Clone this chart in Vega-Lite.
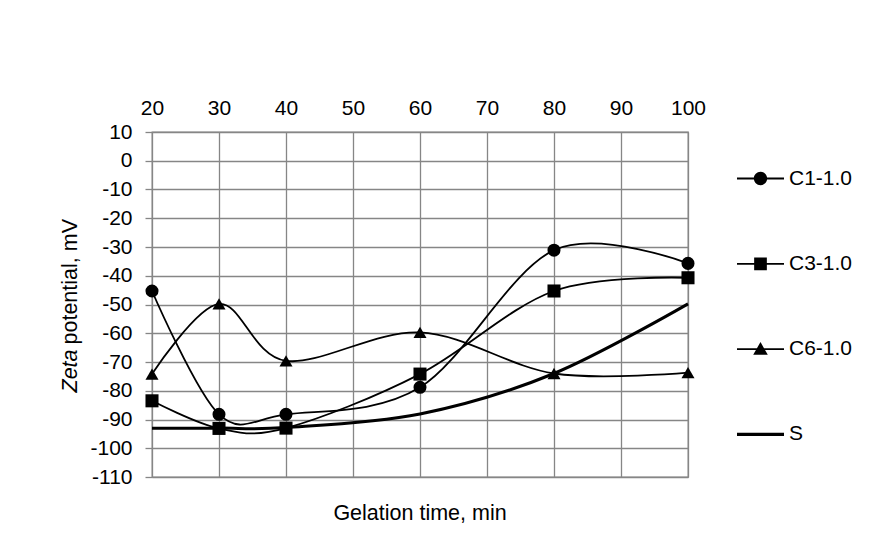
{
  "$schema": "https://vega.github.io/schema/vega-lite/v6.json",
  "width": 536,
  "height": 345,
  "autosize": {"type": "none"},
  "padding": {"left": 152, "top": 132, "right": 189, "bottom": 57},
  "background": "white",
  "title": {"text": "Gelation time, min", "orient": "bottom", "anchor": "middle", "frame": "group", "offset": 16, "font": "Liberation Sans", "fontSize": 21.5, "fontWeight": "normal", "color": "black"},
  "config": {
    "font": "Liberation Sans",
    "view": {"stroke": "#868686", "strokeWidth": 1.3},
    "axis": {"labelFont": "Liberation Sans", "labelFontSize": 21, "labelColor": "black", "titleFont": "Liberation Sans", "titleFontSize": 21.5, "titleFontWeight": "normal", "titleColor": "black", "gridColor": "#868686", "gridWidth": 1.3, "gridOpacity": 1, "domainColor": "#868686", "tickColor": "#868686", "tickWidth": 1.3}
  },
  "data": {"values": [
    {"series": "C1-1.0", "t": 20, "v": -45.3},
    {"series": "C1-1.0", "t": 30, "v": -88.2},
    {"series": "C1-1.0", "t": 40, "v": -88.2},
    {"series": "C1-1.0", "t": 60, "v": -78.8},
    {"series": "C1-1.0", "t": 80, "v": -31.1},
    {"series": "C1-1.0", "t": 100, "v": -35.7},
    {"series": "C3-1.0", "t": 20, "v": -83.5},
    {"series": "C3-1.0", "t": 30, "v": -93.1},
    {"series": "C3-1.0", "t": 40, "v": -93.0},
    {"series": "C3-1.0", "t": 60, "v": -74.2},
    {"series": "C3-1.0", "t": 80, "v": -45.3},
    {"series": "C3-1.0", "t": 100, "v": -40.7},
    {"series": "C6-1.0", "t": 20, "v": -74.2},
    {"series": "C6-1.0", "t": 30, "v": -49.8},
    {"series": "C6-1.0", "t": 40, "v": -69.6},
    {"series": "C6-1.0", "t": 60, "v": -59.7},
    {"series": "C6-1.0", "t": 80, "v": -74.0},
    {"series": "C6-1.0", "t": 100, "v": -73.7},
    {"series": "S", "t": 20, "v": -93.0},
    {"series": "S", "t": 30, "v": -93.0},
    {"series": "S", "t": 40, "v": -92.8},
    {"series": "S", "t": 60, "v": -88.1},
    {"series": "S", "t": 80, "v": -74.0},
    {"series": "S", "t": 100, "v": -49.8}
  ]},
  "encoding": {
    "x": {"field": "t", "type": "quantitative", "scale": {"domain": [20, 100], "nice": false, "zero": false},
      "axis": {"orient": "top", "title": null, "values": [20, 30, 40, 50, 60, 70, 80, 90, 100], "ticks": false, "tickSize": 0, "domain": false, "labelPadding": 14, "labelFlush": false}}
  },
  "layer": [
    {
      "transform": [{"filter": "datum.series != 'S'"}],
      "mark": {"type": "line", "interpolate": "cardinal", "color": "black", "strokeWidth": 1.8},
      "encoding": {
        "y": {"field": "v", "type": "quantitative", "scale": {"domain": [-110, 10], "nice": false, "zero": false},
          "axis": {"orient": "left", "title": "potential, mV", "titleAngle": -90, "titleAlign": "left", "titleBaseline": "alphabetic", "titleX": -75.5, "titleY": 212, "values": [-110, -100, -90, -80, -70, -60, -50, -40, -30, -20, -10, 0, 10], "tickSize": 7, "labelPadding": 13, "domain": false, "labelExpr": "'' + datum.value", "labelFlush": false}},
        "detail": {"field": "series"}
      }
    },
    {
      "transform": [{"filter": "datum.series == 'S'"}],
      "mark": {"type": "line", "interpolate": "cardinal", "color": "black", "strokeWidth": 3},
      "encoding": {"y": {"field": "v", "type": "quantitative", "axis": null}}
    },
    {
      "transform": [{"filter": "datum.series != 'S'"}],
      "mark": {"type": "point", "filled": true, "color": "black", "opacity": 1, "size": 170},
      "encoding": {
        "y": {"field": "v", "type": "quantitative", "axis": null},
        "shape": {"field": "series", "type": "nominal", "scale": {"domain": ["C1-1.0", "C3-1.0", "C6-1.0"], "range": ["circle", "square", "triangle-up"]}, "legend": null}
      }
    },
    {
      "mark": {"type": "point", "filled": true, "color": "black", "opacity": 0},
      "encoding": {
        "y": {"field": "v", "type": "quantitative",
          "axis": {"orient": "left", "title": "Zeta", "titleFontStyle": "italic", "titleAngle": -90, "titleAlign": "left", "titleBaseline": "alphabetic", "titleX": -75.5, "titleY": 260, "labels": false, "ticks": false, "grid": false, "domain": false}},
        "shape": {"field": "series", "type": "nominal",
        "scale": {"domain": ["C1-1.0", "C3-1.0", "C6-1.0", "S"],
          "range": [
            "M-1,-0.038L1,-0.038L1,0.038L-1,0.038Z M-0.283,0A0.283,0.283 0 1,1 0.283,0A0.283,0.283 0 1,1 -0.283,0Z",
            "M-1,-0.038L1,-0.038L1,0.038L-1,0.038Z M-0.27,-0.27L0.27,-0.27L0.27,0.27L-0.27,0.27Z",
            "M-1,-0.038L1,-0.038L1,0.038L-1,0.038Z M0,-0.3L0.31,0.24L-0.31,0.24Z",
            "M-1,-0.065L1,-0.065L1,0.065L-1,0.065Z"
          ]},
        "legend": {"orient": "none", "legendX": 585, "legendY": 23, "title": null, "symbolSize": 2209, "symbolStrokeWidth": 0, "symbolFillColor": "black", "symbolOpacity": 1, "labelFont": "Liberation Sans", "labelFontSize": 21, "labelColor": "black", "labelOffset": 5, "rowPadding": 51.3, "padding": 0}}
      }
    }
  ],
  "resolve": {"scale": {"shape": "independent"}, "axis": {"y": "independent"}}
}
